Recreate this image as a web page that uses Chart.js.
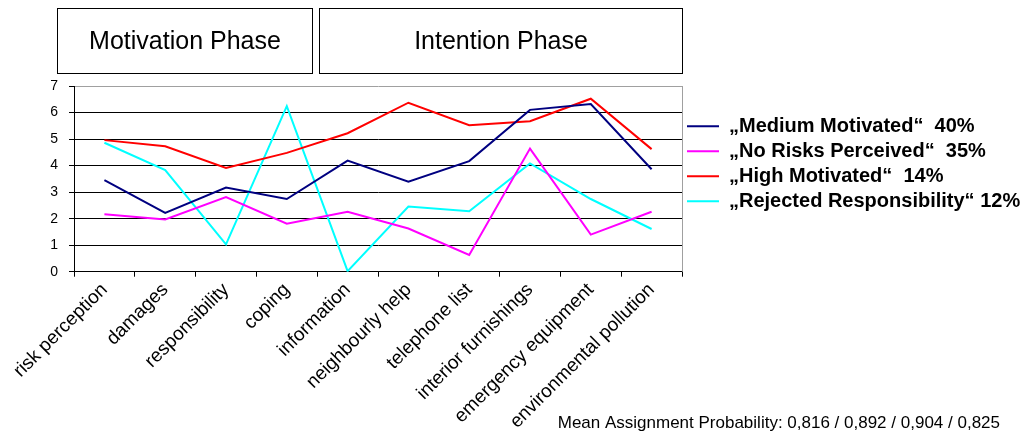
<!DOCTYPE html>
<html>
<head>
<meta charset="utf-8">
<script src="https://cdn.jsdelivr.net/npm/chart.js@4/dist/chart.umd.min.js"></script>
<style>
  html, body { margin: 0; padding: 0; background: #fff; }
  #wrap { width: 1025px; height: 435px; }
</style>
</head>
<body>
<div id="wrap"><canvas id="myChart" width="1025" height="435"></canvas></div>
<script>
const categories = [
  'risk perception', 'damages', 'responsibility', 'coping', 'information',
  'neighbourly help', 'telephone list', 'interior furnishings',
  'emergency equipment', 'environmental pollution'
];

const seriesNames = [
  '\u201EMedium Motivated\u201C  40%',
  '\u201ENo Risks Perceived\u201C  35%',
  '\u201EHigh Motivated\u201C  14%',
  '\u201ERejected Responsibility\u201C 12%'
];

const mediumMotivated = [3.45, 2.22, 3.17, 2.74, 4.19, 3.39, 4.17, 6.10, 6.32, 3.86];
const noRisksPerceived = [2.17, 1.97, 2.81, 1.81, 2.26, 1.63, 0.63, 4.64, 1.40, 2.26];
const highMotivated = [4.96, 4.73, 3.91, 4.48, 5.22, 6.37, 5.52, 5.67, 6.52, 4.62];
const rejectedResp = [4.86, 3.83, 1.03, 6.24, 0.02, 2.46, 2.28, 4.08, 2.74, 1.61];

const yTicks = [0, 1, 2, 3, 4, 5, 6, 7];

// phase boxes: label, first category index, last category index
const phaseLabels = ['Motivation Phase', 'Intention Phase'];
const phaseFrom = [0, 4];
const phaseTo = [3, 9];

const footerText = 'Mean Assignment Probability: 0,816 / 0,892 / 0,904 / 0,825';

const colors = ['#000080', '#ff00ff', '#ff0000', '#00ffff'];
const FONT = "'Liberation Sans', Arial, sans-serif";
const LEGEND_WIDTH = 343;

const allSeries = [mediumMotivated, noRisksPerceived, highMotivated, rejectedResp];

const data = {
  labels: categories,
  datasets: allSeries.map((vals, i) => ({
    label: seriesNames[i],
    data: vals,
    borderColor: colors[i],
    backgroundColor: colors[i],
    borderWidth: 2,
    pointRadius: 0,
    tension: 0,
    fill: false
  }))
};

// extras: wider legend box, plot frame (right grey), phase boxes, footer note
const extras = {
  id: 'extras',
  beforeLayout(chart) {
    const lg = chart.legend;
    if (lg && !lg._wide) {
      const fit = lg.fit;
      lg.fit = function () {
        fit.call(this);
        this.width = LEGEND_WIDTH;
      };
      lg._wide = true;
    }
  },
  beforeDatasetsDraw(chart) {
    const { ctx, chartArea } = chart;
    ctx.save();
    ctx.strokeStyle = '#a0a0a0';
    ctx.lineWidth = 1;
    ctx.beginPath();
    ctx.moveTo(Math.round(chartArea.right) + 0.5, chartArea.top);
    ctx.lineTo(Math.round(chartArea.right) + 0.5, chartArea.bottom);
    ctx.stroke();
    ctx.restore();
  },
  afterDraw(chart) {
    const { ctx } = chart;
    const x = chart.scales.x;
    const half = (x.getPixelForValue(1) - x.getPixelForValue(0)) / 2;
    ctx.save();
    ctx.strokeStyle = '#000';
    ctx.lineWidth = 1;
    ctx.fillStyle = '#000';
    ctx.font = '25px ' + FONT;
    ctx.textAlign = 'center';
    ctx.textBaseline = 'middle';
    const top = 8.5, bottom = 73.5;
    phaseLabels.forEach((lab, i) => {
      let l = x.getPixelForValue(phaseFrom[i]) - half;
      let r = x.getPixelForValue(phaseTo[i]) + half;
      if (i === 0) { l -= 17; r -= 5; } else { l += 2; }
      l = Math.round(l) + 0.5;
      r = Math.round(r) + 0.5;
      ctx.strokeRect(l, top, r - l, bottom - top);
      ctx.fillText(lab, (l + r) / 2, 42);
    });
    ctx.font = '17px ' + FONT;
    ctx.textAlign = 'right';
    ctx.textBaseline = 'alphabetic';
    ctx.fillText(footerText, 1000, 428);
    ctx.restore();
  }
};

const config = {
  type: 'line',
  data: data,
  options: {
    responsive: false,
    animation: false,
    layout: {
      padding: { top: 86, left: 0, right: 0, bottom: 0 }
    },
    scales: {
      y: {
        min: 0,
        max: 7,
        afterBuildTicks: (axis) => { axis.ticks = yTicks.map(v => ({ value: v })); },
        afterFit: (axis) => { axis.width = 74; },
        ticks: {
          color: '#000',
          padding: 11,
          font: { family: FONT, size: 14 }
        },
        grid: {
          color: (c) => (c.tick && c.tick.value === 7 ? '#a0a0a0' : '#000'),
          tickColor: '#000',
          tickLength: 5,
          lineWidth: 1
        },
        border: { color: '#000', width: 1 }
      },
      x: {
        offset: true,
        ticks: {
          color: '#000',
          autoSkip: false,
          minRotation: 45,
          maxRotation: 45,
          padding: 2,
          font: { family: FONT, size: 19 }
        },
        grid: {
          offset: true,
          drawOnChartArea: false,
          color: '#000',
          tickLength: 5
        },
        border: { color: '#000', width: 1 }
      }
    },
    plugins: {
      legend: {
        position: 'right',
        align: 'start',
        fullSize: false,
        title: { display: true, text: '', padding: 0, font: { size: 21 } },
        labels: {
          color: '#000',
          usePointStyle: true,
          pointStyle: 'line',
          pointStyleWidth: 32,
          padding: 5,
          font: { family: FONT, size: 20, weight: 'bold' }
        }
      },
      tooltip: { enabled: false }
    }
  },
  plugins: [extras]
};

const myChart = new Chart(document.getElementById('myChart'), config);
</script>
</body>
</html>
